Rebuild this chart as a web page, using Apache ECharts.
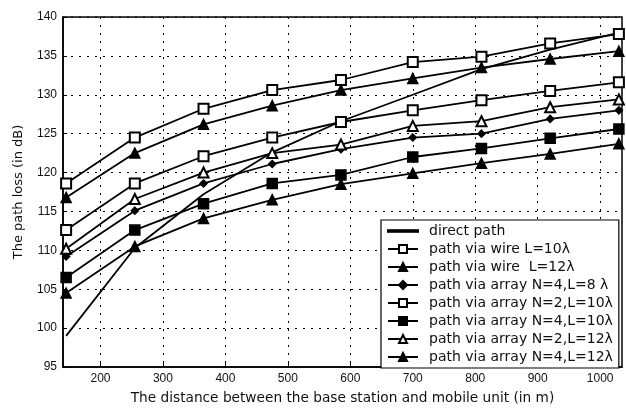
<!DOCTYPE html>
<html>
<head>
<meta charset="utf-8">
<script src="https://cdn.jsdelivr.net/npm/echarts@6/dist/echarts.min.js"></script>
<style>
html, body { margin: 0; padding: 0; background: #fff; }
#main { width: 626px; height: 414px; }
</style>
</head>
<body>
<div id="main"></div>
<script>
// distances (m) where the curves were sampled
var distances = [145, 255, 365, 475, 585, 700, 810, 920, 1030];
var xTicks = [200, 300, 400, 500, 600, 700, 800, 900, 1000];

// path loss (dB)
var directPath = [99.0, 110.3, 117.2, 122.6, 126.6, 130.0, 133.3, 135.8, 138.0];
var wireL10 = [118.6, 124.5, 128.2, 130.6, 131.9, 134.2, 134.9, 136.6, 137.8];
var wireL12 = [116.8, 122.5, 126.2, 128.6, 130.6, 132.1, 133.5, 134.6, 135.6];
var arrN4L8 = [109.2, 115.1, 118.6, 121.1, 123.0, 124.5, 125.0, 126.9, 128.0];
var arrN2L10 = [112.6, 118.6, 122.1, 124.5, 126.5, 128.0, 129.3, 130.5, 131.6];
var arrN4L10 = [106.5, 112.6, 116.0, 118.6, 119.7, 122.0, 123.1, 124.4, 125.6];
var arrN2L12 = [110.2, 116.6, 120.0, 122.5, 123.6, 126.0, 126.6, 128.4, 129.4];
var arrN4L12 = [104.5, 110.5, 114.1, 116.5, 118.5, 119.9, 121.2, 122.4, 123.7];

function pairs(ys) {
    return distances.map(function (d, i) { return [d, ys[i]]; });
}

function line(name, ys, symbol, size) {
    return {
        name: name,
        type: 'line',
        data: pairs(ys),
        symbol: symbol,
        symbolSize: size,
        showSymbol: symbol !== 'none',
        lineStyle: { color: '#000', width: 1.8 },
        itemStyle: { color: '#000', borderColor: '#000', borderWidth: 1.5 },
        emphasis: { disabled: true },
        animation: false
    };
}

var font = 'Liberation Sans, Arial, sans-serif';
var wide = 'DejaVu Sans, sans-serif';
var myChart = echarts.init(document.getElementById('main'));
myChart.setOption({
    backgroundColor: '#fff',
    grid: {
        left: 63, right: 4, top: 17, bottom: 47,
        show: true, borderColor: '#000', borderWidth: 1.5
    },
    legend: {
        orient: 'vertical',
        left: 381, top: 220,
        itemWidth: 30, itemHeight: 10, itemGap: 4,
        padding: [4, 6, 4, 6],
        backgroundColor: '#fff',
        borderColor: '#000', borderWidth: 1.2, borderRadius: 0,
        textStyle: { fontFamily: wide, fontSize: 14, color: '#111', lineHeight: 14, padding: [0, 0, 0, 6] },
        data: [
            { name: 'direct path', icon: 'path://M0,4.2L30,4.2L30,5.8L0,5.8Z' },
            'path via wire L=10λ', 'path via wire  L=12λ',
            'path via array N=4,L=8 λ', 'path via array N=2,L=10λ',
            'path via array N=4,L=10λ', 'path via array N=2,L=12λ',
            'path via array N=4,L=12λ'
        ]
    },
    xAxis: {
        type: 'value',
        min: 140, max: 1035,
        name: 'The distance between the base station and mobile unit (in m)',
        nameLocation: 'middle', nameGap: 24,
        nameTextStyle: { fontFamily: wide, fontSize: 13.7, color: '#111' },
        axisLine: { lineStyle: { color: '#000', width: 1.5 } },
        axisTick: { inside: true, length: 4, customValues: xTicks, lineStyle: { color: '#000' } },
        axisLabel: {
            customValues: xTicks, fontFamily: font, fontSize: 12, color: '#111', margin: 6,
            formatter: function (v) { return String(v); }
        },
        splitLine: { show: true, lineStyle: { color: '#000', type: [2, 6], width: 1 } }
    },
    yAxis: {
        type: 'value',
        min: 95, max: 140, interval: 5,
        name: 'The path loss (in dB)',
        nameLocation: 'middle', nameGap: 38,
        nameTextStyle: { fontFamily: wide, fontSize: 13, color: '#111' },
        axisLine: { show: true, lineStyle: { color: '#000', width: 1.5 } },
        axisTick: { show: true, inside: true, length: 4, lineStyle: { color: '#000' } },
        axisLabel: { fontFamily: font, fontSize: 12, color: '#111', margin: 6 },
        splitLine: { show: true, lineStyle: { color: '#000', type: [2, 6], width: 1 } }
    },
    series: [
        line('direct path', directPath, 'none', 0),
        line('path via wire L=10λ', wireL10, 'emptyRect', 10),
        line('path via wire  L=12λ', wireL12, 'triangle', 10),
        line('path via array N=4,L=8 λ', arrN4L8, 'diamond', 7),
        line('path via array N=2,L=10λ', arrN2L10, 'emptyRect', 10),
        line('path via array N=4,L=10λ', arrN4L10, 'rect', 10),
        line('path via array N=2,L=12λ', arrN2L12, 'emptyTriangle', 10),
        line('path via array N=4,L=12λ', arrN4L12, 'triangle', 10)
    ]
});
</script>
</body>
</html>
